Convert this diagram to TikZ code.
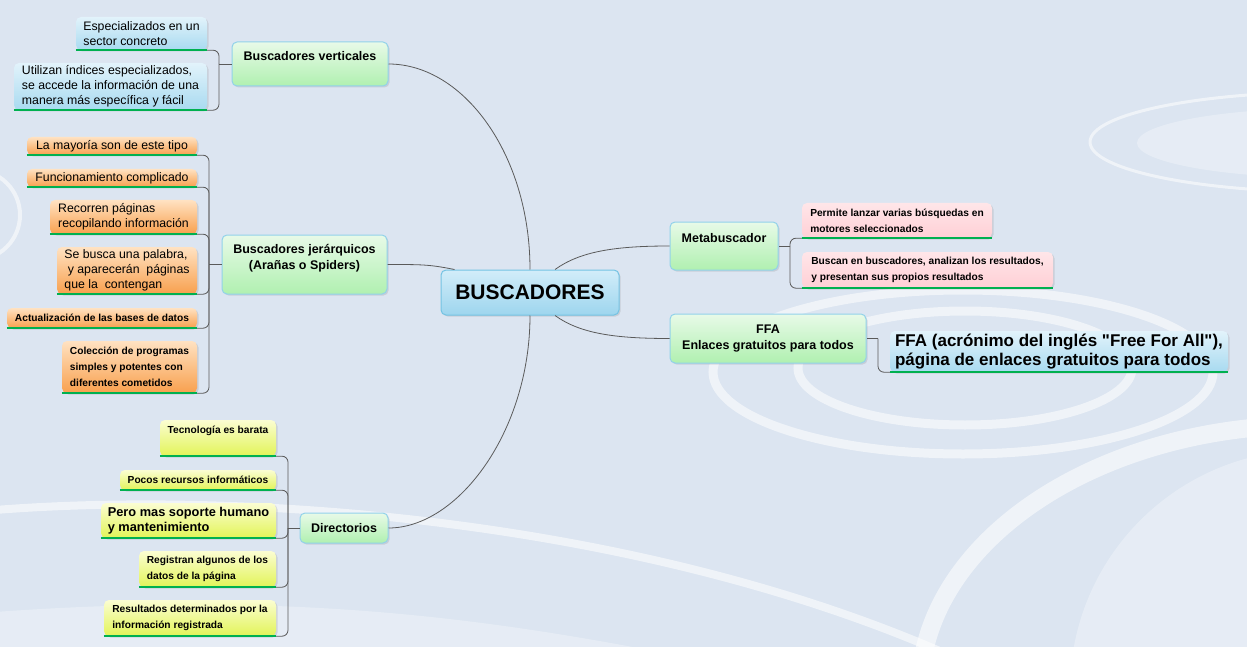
\documentclass[tikz,border=0pt]{standalone}
\usepackage{fontspec}
\setmainfont{Liberation Sans}
\usetikzlibrary{shadows}

\definecolor{bgblue}{HTML}{DCE5F1}
\definecolor{linegray}{HTML}{5A5A5A}
\definecolor{undergreen}{HTML}{00B050}
\definecolor{centraltop}{HTML}{D2EDF9}
\definecolor{centralbot}{HTML}{9DD5EE}
\definecolor{centralline}{HTML}{74C3E3}
\definecolor{topictop}{HTML}{E8FAE8}
\definecolor{topicbot}{HTML}{B0F0B0}
\definecolor{topicline}{HTML}{92D2EA}
\definecolor{bluetop}{HTML}{E2F3FB}
\definecolor{bluebot}{HTML}{A8DAF0}
\definecolor{orangetop}{HTML}{FFE2C2}
\definecolor{orangebot}{HTML}{F8A04E}
\definecolor{yellowtop}{HTML}{FBFDD2}
\definecolor{yellowbot}{HTML}{E2F458}
\definecolor{pinktop}{HTML}{FFE6E9}
\definecolor{pinkbot}{HTML}{FFCFD5}

\begin{document}
\begin{tikzpicture}[
    x=1pt, y=-1pt,
    Box/.style 2 args={minimum width=#1pt,minimum height=#2pt},
    Node/.style={rounded corners=5pt,inner xsep=5pt,inner ysep=2pt,align=left,
      drop shadow={opacity=0.22,shadow xshift=1.5pt,shadow yshift=-1.5pt}},
    Central/.style={Node,draw=centralline,line width=1pt,top color=centraltop,bottom color=centralbot,
      font=\fontsize{21}{24}\selectfont\bfseries},
    Topic/.style={Node,draw=topicline,line width=1pt,top color=topictop,bottom color=topicbot,
      font=\fontsize{12.5}{16}\selectfont\bfseries},
    Leaf/.style={Node,font=\fontsize{12.3}{15}\selectfont,
      append after command={(\tikzlastnode.south west) edge[Under] (\tikzlastnode.south east)}},
    Small/.style={font=\fontsize{10.2}{16}\selectfont\bfseries},
    Blue/.style={top color=bluetop,bottom color=bluebot},
    Orange/.style={top color=orangetop,bottom color=orangebot},
    Yellow/.style={top color=yellowtop,bottom color=yellowbot},
    Pink/.style={top color=pinktop,bottom color=pinkbot},
    Under/.style={draw=undergreen,line width=2pt},
    Link/.style={draw=linegray,line width=0.8pt},
    Branch/.style={Link,rounded corners=6pt},
    Ring/.style={draw=white,draw opacity=0.55},
    RingFill/.style={fill=white,fill opacity=0.3},
    ]

    \useasboundingbox (0,0) rectangle (1247,647);
    \fill[bgblue] (0,0) rectangle (1247,647);

    \draw[Ring,line width=9pt] (963,372) ellipse [x radius=250, y radius=82];
    \draw[Ring,line width=9pt] (965,368) ellipse [x radius=167, y radius=57];
    \draw[Ring,line width=3pt] (1330,142) ellipse [x radius=240, y radius=50];
    \fill[RingFill] (1330,143) ellipse [x radius=193, y radius=35];
    \draw[Ring,line width=18pt] (1310,690) ellipse [x radius=390, y radius=265];
    \fill[RingFill] (1310,690) ellipse [x radius=240, y radius=240];
    \draw[Ring,line width=4pt] (-25,215) circle [radius=45];
    \draw[Ring,line width=8pt] (-5,510) .. controls (250,490) and (650,520) .. (960,660);
    \fill[RingFill] (-5,612) .. controls (300,590) and (500,620) .. (700,660) -- (-5,660) -- cycle;

    \node[Central,Box={178}{45}] at (530,292.5) (BUS) {BUSCADORES};

    \node[Topic,Box={156}{44}] at (310,64) (BV) {Buscadores verticales\\~};
    \node[Leaf,Blue,Box={131}{33}] at (141.5,33.5) (V1) {Especializados en un\\sector concreto};
    \node[Leaf,Blue,Box={193}{47}] at (110.5,86.5) (V2) {Utilizan índices especializados,\\se accede la información de una\\manera más específica y fácil};

    \node[Topic,align=center,Box={165}{59}] at (304.5,264.5) (BJ) {Buscadores jerárquicos\\(Arañas o Spiders)\\~};
    \node[Leaf,Orange,Box={170}{18}] at (112,146) (J1) {La mayoría son de este tipo};
    \node[Leaf,Orange,Box={170}{18}] at (112,178) (J2) {Funcionamiento complicado};
    \node[Leaf,Orange,Box={147}{34}] at (123.5,217) (J3) {Recorren páginas\\recopilando información};
    \node[Leaf,Orange,Box={140}{47}] at (127,270.5) (J4) {Se busca una palabra,\\\ y aparecerán\ \ páginas\\que la\ \ contengan};
    \node[Leaf,Orange,Small,Box={190}{20}] at (102,318) (J5) {Actualización de las bases de datos};
    \node[Leaf,Orange,Small,Box={135}{52}] at (129.5,367) (J6) {Colección de programas\\simples y potentes con\\diferentes cometidos};

    \node[Topic,Box={88}{30}] at (344,528) (DIR) {Directorios};
    \node[Leaf,Yellow,Small,Box={116}{36}] at (218,438) (D1) {Tecnología es barata\\~};
    \node[Leaf,Yellow,Small,Box={156}{20}] at (198,480) (D2) {Pocos recursos informáticos};
    \node[Leaf,Yellow,font=\fontsize{12.8}{15}\selectfont\bfseries,Box={175}{35}] at (188.5,520.5) (D3) {Pero mas soporte humano\\y mantenimiento};
    \node[Leaf,Yellow,Small,Box={137}{36}] at (207.5,569) (D4) {Registran algunos de los\\datos de la página};
    \node[Leaf,Yellow,Small,Box={172}{36}] at (190,618) (D5) {Resultados determinados por la\\información registrada};

    \node[Topic,Box={108}{48}] at (724,246) (MB) {Metabuscador\\~};
    \node[Leaf,Pink,Small,Box={190}{35}] at (897,220.5) (M1) {Permite lanzar varias búsquedas en\\motores seleccionados};
    \node[Leaf,Pink,Small,Box={251}{36}] at (927.5,270) (M2) {Buscan en buscadores, analizan los resultados,\\y presentan sus propios resultados};

    \node[Topic,align=center,Box={196}{49}] at (768,338.5) (FFA) {FFA\\Enlaces gratuitos para todos};
    \node[Leaf,Blue,font=\fontsize{17}{19}\selectfont\bfseries,Box={338}{41}] at (1059,351.5) (F1) {FFA (acrónimo del inglés \textquotedbl Free For All\textquotedbl),\\página de enlaces gratuitos para todos};

    \coordinate (VS) at (219,64);
    \coordinate (JS) at (209,264.5);
    \coordinate (DS) at (288,528);
    \coordinate (MS) at (790,246);
    \coordinate (FS) at (878,338.5);

    \draw[Link] (BUS.north) .. controls +(0,-115) and +(75,0) .. (BV.east);
    \draw[Link] ([xshift=14pt]BUS.north west) .. controls +(-25,-5) and +(35,0) .. (BJ.east);
    \draw[Link] (BUS.south) .. controls +(0,115) and +(70,0) .. (DIR.east);
    \draw[Link] ([xshift=25pt]BUS.north) .. controls +(25,-18) and +(-55,0) .. (MB.west);
    \draw[Link] ([xshift=25pt]BUS.south) .. controls +(25,18) and +(-55,0) .. (FFA.west);

    \draw[Link] (VS) -- (BV.west);
    \draw[Link] (JS) -- (BJ.west);
    \draw[Link] (DS) -- (DIR.west);
    \draw[Link] (MS) -- (MB.east);
    \draw[Link] (FS) -- (FFA.east);

    \draw[Branch] (V1.south east) -| (VS);
    \draw[Branch] (V2.south east) -| (VS);
    \draw[Branch] (J1.south east) -| (JS);
    \draw[Branch] (J2.south east) -| (JS);
    \draw[Branch] (J3.south east) -| (JS);
    \draw[Branch] (J4.south east) -| (JS);
    \draw[Branch] (J5.south east) -| (JS);
    \draw[Branch] (J6.south east) -| (JS);
    \draw[Branch] (D1.south east) -| (DS);
    \draw[Branch] (D2.south east) -| (DS);
    \draw[Branch] (D3.south east) -| (DS);
    \draw[Branch] (D4.south east) -| (DS);
    \draw[Branch] (D5.south east) -| (DS);
    \draw[Branch] (M1.south west) -| (MS);
    \draw[Branch] (M2.south west) -| (MS);
    \draw[Branch] (F1.south west) -| (FS);
\end{tikzpicture}
\end{document}
